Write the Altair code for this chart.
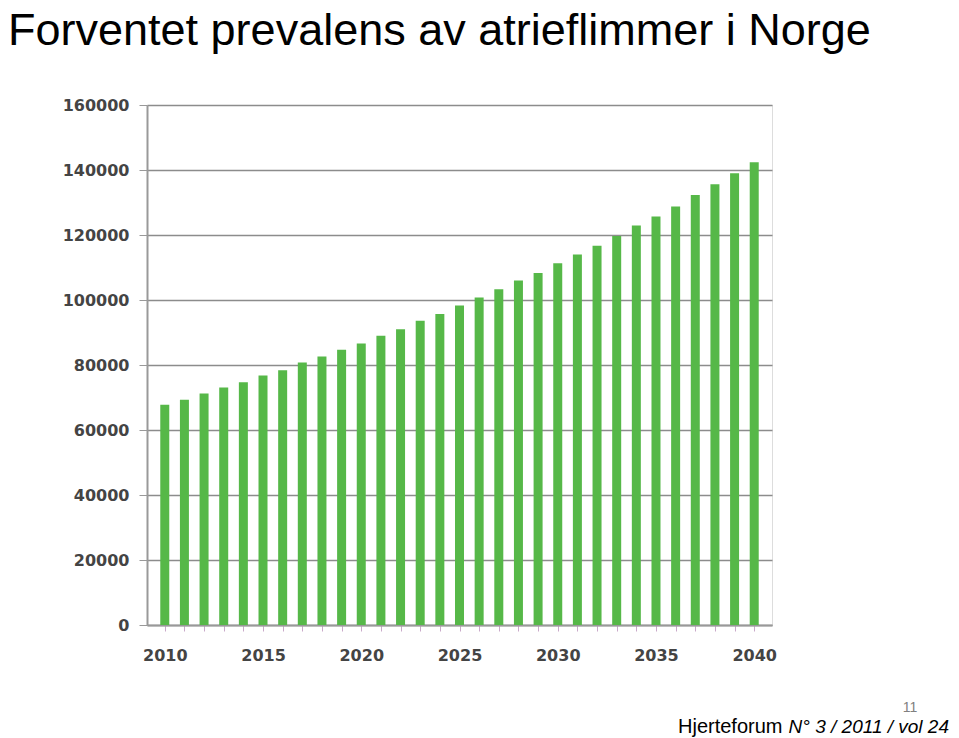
import altair as alt
import pandas as pd

years = list(range(2010, 2041))
cases = [67800, 69300, 71200, 73100, 74700, 76800, 78400, 80800, 82600, 84700,
         86600, 89000, 91000, 93600, 95700, 98300, 100800, 103300, 106000, 108300,
         111300, 114000, 116700, 119700, 122900, 125700, 128800, 132300, 135600,
         139000, 142400]
y_ticks = [0, 20000, 40000, 60000, 80000, 100000, 120000, 140000, 160000]
x_label_years = [2010, 2015, 2020, 2025, 2030, 2035, 2040]
title_text = ["Forventet prevalens av atrieflimmer i Norge"]
page_no = ["11"]
footer_plain = ["Hjerteforum"]
footer_italic = ["N° 3 / 2011 / vol 24"]

df = pd.DataFrame({"year": years, "cases": cases})

label_list = "[" + ",".join(str(v) for v in x_label_years) + "]"

W, H = 625, 520
PL, PT = 139, 97
TOTAL_W, TOTAL_H = 943, 730

bars = alt.Chart(df).mark_bar(size=9, color="#56b848").encode(
    x=alt.X("year:Q",
            scale=alt.Scale(domain=[2009.35, 2040.65], nice=False, zero=False),
            axis=alt.Axis(values=years, format="d", title=None, grid=False,
                          labelExpr="indexof(" + label_list + ", datum.value) >= 0 ? datum.label : ''",
                          labelFont="DejaVu Sans", labelFontSize=16, labelFontWeight="bold",
                          labelColor="#444444", labelPadding=16, tickSize=6,
                          tickColor="#c9a9c9", domainColor="#999999", domainWidth=2,
                          labelFlush=False, labelOverlap=False)),
    y=alt.Y("cases:Q",
            scale=alt.Scale(domain=[0, 160000], nice=False),
            axis=alt.Axis(values=y_ticks, format="d", title=None, grid=True,
                          gridColor="#8c8c8c", gridWidth=1.6,
                          labelFont="DejaVu Sans", labelFontSize=16, labelFontWeight="bold",
                          labelColor="#444444", labelPadding=10, tickSize=8,
                          tickColor="#999999", domainColor="#999999", domainWidth=2))
)

title = alt.Chart(pd.DataFrame({"t": title_text})).mark_text(
    align="left", baseline="top", font="Liberation Sans", fontSize=45, color="black"
).encode(x=alt.value(-PL), y=alt.value(-PT + 1), text="t:N")

pno = alt.Chart(pd.DataFrame({"t": page_no})).mark_text(
    align="center", baseline="alphabetic", font="Liberation Sans", fontSize=14, color="#808080"
).encode(x=alt.value(763), y=alt.value(607), text="t:N")

fplain = alt.Chart(pd.DataFrame({"t": footer_plain})).mark_text(
    align="left", baseline="alphabetic", font="Liberation Sans", fontSize=20, color="black"
).encode(x=alt.value(531), y=alt.value(628), text="t:N")

fital = alt.Chart(pd.DataFrame({"t": footer_italic})).mark_text(
    align="right", baseline="alphabetic", font="Liberation Sans", fontSize=19,
    fontStyle="italic", color="black"
).encode(x=alt.value(802), y=alt.value(628), text="t:N")

chart = alt.layer(bars, title, pno, fplain, fital).properties(
    width=W, height=H,
    autosize=alt.AutoSizeParams(type="none"),
    padding={"left": PL, "top": PT, "right": TOTAL_W - PL - W, "bottom": TOTAL_H - PT - H},
).configure_view(stroke=None).configure(background="white")

chart.save("out.html", embed_options={"renderer": "svg", "actions": False})
